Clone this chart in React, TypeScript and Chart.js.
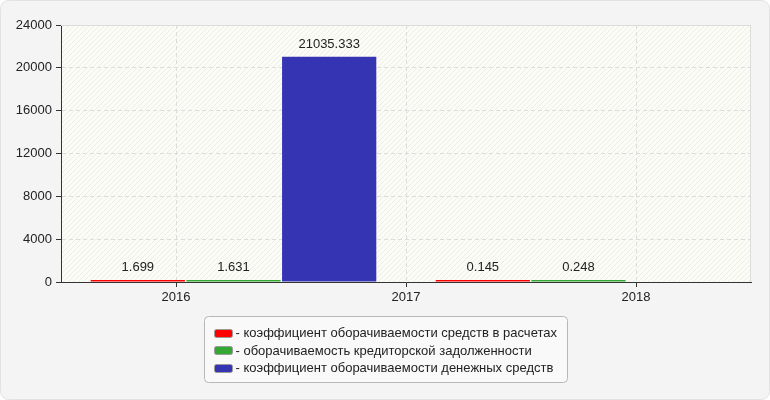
import React, { useRef, useEffect } from "react";
import { Chart, ChartConfiguration, Plugin } from "chart.js/auto";

// two turnover periods are drawn as bar groups, year labels sit on their own axis
const periods = ["2016-2017", "2017-2018"];
const years = ["2016", "2017", "2018"];
const receivablesTurnover = [1.699, 0.145];
const payablesTurnover = [1.631, 0.248];
const cashTurnover: (number | null)[] = [21035.333, null];
const seriesLabels = [
  "коэффициент оборачиваемости средств в расчетах",
  "оборачиваемость кредиторской задолженности",
  "коэффициент оборачиваемости денежных средств",
];
const seriesColors = ["#ff0000", "#35a833", "#3535b4"];
const yMax = 24000;
const yStep = 4000;

const FONT = "'Liberation Sans', Arial, sans-serif";

function makeHatch(): CanvasPattern | string {
  const c = document.createElement("canvas");
  c.width = 5;
  c.height = 5;
  const g = c.getContext("2d");
  if (!g) return "#fcfcf6";
  g.fillStyle = "#fcfcf6";
  g.fillRect(0, 0, 5, 5);
  g.strokeStyle = "#eeeee8";
  g.lineWidth = 1;
  g.beginPath();
  g.moveTo(-1, 6);
  g.lineTo(6, -1);
  g.stroke();
  const p = g.createPattern(c, "repeat");
  return p || "#fcfcf6";
}

const BarChart: React.FC = () => {
  const chartRef = useRef<HTMLCanvasElement | null>(null);
  const chartInstanceRef = useRef<Chart | null>(null);

  useEffect(() => {
    document.body.style.margin = "0";
    if (!chartRef.current) return;
    const ctx = chartRef.current.getContext("2d");
    if (!ctx) return;
    if (chartInstanceRef.current) chartInstanceRef.current.destroy();

    const hatch = makeHatch();

    const framePlugin: Plugin = {
      id: "frame",
      beforeDraw(chart) {
        const c = chart.ctx;
        const { left, top, right, bottom } = chart.chartArea;
        c.save();
        c.fillStyle = "#f4f4f4";
        c.strokeStyle = "#e2e2e2";
        c.beginPath();
        c.roundRect(0.5, 0.5, chart.width - 1, chart.height - 1, 8);
        c.fill();
        c.stroke();
        c.fillStyle = hatch;
        c.fillRect(left, top, right - left, bottom - top);
        c.restore();
      },
      afterDatasetsDraw(chart) {
        const c = chart.ctx;
        c.save();
        c.font = "13px " + FONT;
        c.fillStyle = "#222";
        c.textAlign = "center";
        c.textBaseline = "bottom";
        chart.data.datasets.forEach((ds, i) => {
          const meta = chart.getDatasetMeta(i);
          meta.data.forEach((bar, j) => {
            const v = ds.data[j] as number | null;
            if (v === null || v === undefined) return;
            c.fillText(String(v), bar.x, bar.y - 6);
          });
        });
        c.restore();
      },
      afterDraw(chart) {
        const c = chart.ctx;
        const { left, top, right } = chart.chartArea;
        c.save();
        // plot frame, top and right
        c.strokeStyle = "#dcdcdc";
        c.lineWidth = 1;
        c.beginPath();
        c.moveTo(left, top + 0.5);
        c.lineTo(right - 0.5, top + 0.5);
        c.lineTo(right - 0.5, chart.chartArea.bottom);
        c.stroke();

        // legend box
        c.font = "13px " + FONT;
        const texts = chart.data.datasets.map((ds) => "- " + ds.label);
        const textW = Math.max(...texts.map((t) => c.measureText(t).width));
        const boxW = Math.round(10 + 18 + 3 + textW + 11);
        const boxH = 66;
        const bx = Math.round((chart.width - boxW) / 2) + 0.5;
        const by = 316.5;
        c.fillStyle = "#f9f9f9";
        c.strokeStyle = "#b8b8b8";
        c.beginPath();
        c.roundRect(bx, by, boxW, boxH, 4);
        c.fill();
        c.stroke();
        c.textAlign = "left";
        c.textBaseline = "middle";
        texts.forEach((t, i) => {
          const cy = by + 16 + i * 17.5;
          c.fillStyle = chart.data.datasets[i].backgroundColor as string;
          c.strokeStyle = "#9a9a9a";
          c.beginPath();
          c.roundRect(bx + 10, Math.round(cy - 4) + 0.5, 18, 8, 2);
          c.fill();
          c.stroke();
          c.fillStyle = "#222";
          c.fillText(t, bx + 31, cy + 1);
        });
        c.restore();
      },
    };

    const gridOpts = {
      color: "#dcdcdc",
      tickColor: "#333",
      tickLength: 5,
      tickBorderDash: [],
    };

    const chartConfig: ChartConfiguration = {
      type: "bar",
      data: {
        labels: periods,
        datasets: [
          { label: seriesLabels[0], data: receivablesTurnover, backgroundColor: seriesColors[0] },
          { label: seriesLabels[1], data: payablesTurnover, backgroundColor: seriesColors[1] },
          { label: seriesLabels[2], data: cashTurnover, backgroundColor: seriesColors[2] },
        ],
      },
      options: {
        responsive: true,
        maintainAspectRatio: false,
        animation: false,
        layout: { padding: { top: 25, right: 19, bottom: 94, left: 0 } },
        datasets: {
          bar: {
            categoryPercentage: 0.832,
            barPercentage: 0.985,
            minBarLength: 2,
          },
        },
        plugins: {
          legend: { display: false },
          tooltip: { enabled: false },
        },
        scales: {
          x: { type: "category", display: false, offset: true },
          years: {
            type: "category",
            labels: years,
            position: "bottom",
            offset: true,
            grid: { ...gridOpts, offset: false },
            border: { color: "#333", width: 1, dash: [4, 3] },
            ticks: { color: "#222", font: { size: 13, family: FONT }, padding: 3 },
            afterFit: (scale) => {
              scale.height = 24;
            },
          },
          y: {
            min: 0,
            max: yMax,
            grid: gridOpts,
            border: { color: "#333", width: 1, dash: [4, 3] },
            ticks: {
              stepSize: yStep,
              color: "#222",
              font: { size: 13, family: FONT },
              padding: 4,
              callback: (v) => String(v),
            },
            afterFit: (scale) => {
              scale.width = 61;
            },
          },
        },
      },
      plugins: [framePlugin],
    };
    chartInstanceRef.current = new Chart(ctx, chartConfig);

    return () => {
      if (chartInstanceRef.current) {
        chartInstanceRef.current.destroy();
        chartInstanceRef.current = null;
      }
    };
  }, []);

  return (
    <div style={{ position: "relative", width: 770, height: 400 }}>
      <canvas ref={chartRef}></canvas>
    </div>
  );
};

export default function App() {
  return <BarChart />;
}
